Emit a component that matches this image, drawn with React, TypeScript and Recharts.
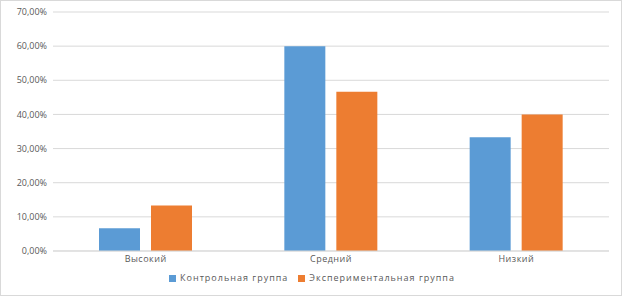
import { BarChart, Bar, XAxis, YAxis, CartesianGrid, Legend } from 'recharts'

const categories = ['Высокий', 'Средний', 'Низкий']
const controlGroup = [6.67, 60, 33.33]
const experimentalGroup = [13.33, 46.67, 40]
const yTicks = [0, 10, 20, 30, 40, 50, 60, 70]

const data = categories.map((name, i) => ({
  name,
  control: controlGroup[i],
  experimental: experimentalGroup[i],
}))

const fmt = (v: number) => `${v.toFixed(2).replace('.', ',')}%`

const font = '"Open Sans", "Liberation Sans", sans-serif'

export default function App() {
  return (
    <div
      style={{
        position: 'absolute',
        left: 0,
        top: 0,
        width: 622,
        height: 296,
        border: '1px solid #d9d9d9',
        boxSizing: 'border-box',
        background: '#fff',
        fontFamily: font,
      }}
    >
      <BarChart
        width={620}
        height={294}
        data={data}
        margin={{ top: 11, right: 12, bottom: 0, left: 0 }}
        barGap={11}
        barCategoryGap={46}
      >
        <CartesianGrid vertical={false} stroke="#d9d9d9" />
        <XAxis
          dataKey="name"
          axisLine={{ stroke: '#d9d9d9' }}
          tickLine={false}
          tickSize={0}
          tickMargin={5}
          tick={{ fill: '#595959', fontSize: 9, fontFamily: font, letterSpacing: 0.5 }}
          height={20}
        />
        <YAxis
          domain={[0, 70]}
          ticks={yTicks}
          tickFormatter={fmt}
          axisLine={false}
          tickLine={false}
          tickSize={0}
          tickMargin={6}
          width={52}
          tick={{ fill: '#595959', fontSize: 9, fontFamily: font }}
        />
        <Legend
          verticalAlign="bottom"
          iconType="square"
          iconSize={7}
          wrapperStyle={{ fontSize: 9, color: '#595959', paddingBottom: 11, paddingLeft: 12 }}
          formatter={(value) => <span style={{ color: '#595959', letterSpacing: 1 }}>{value}</span>}
        />
        <Bar dataKey="control" name="Контрольная группа" fill="#5b9bd5" barSize={41} isAnimationActive={false} />
        <Bar dataKey="experimental" name="Экспериментальная группа" fill="#ed7d31" barSize={41} isAnimationActive={false} />
      </BarChart>
    </div>
  )
}
